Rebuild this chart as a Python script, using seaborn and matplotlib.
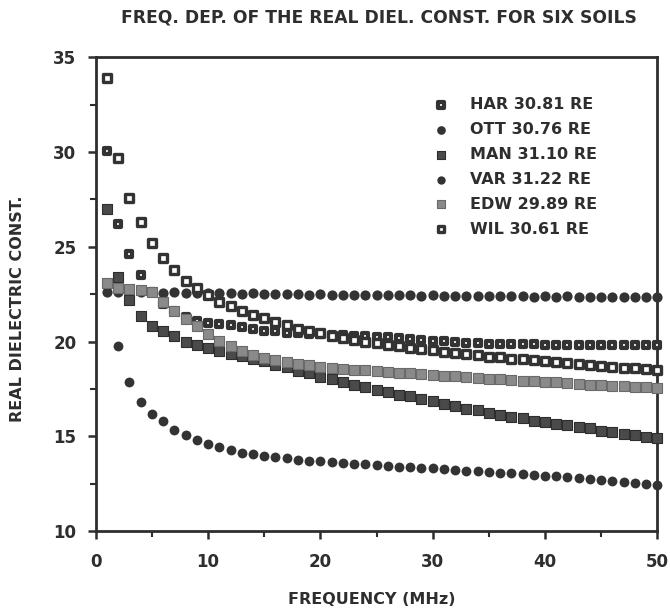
import numpy as np
import matplotlib
matplotlib.use("Agg")
import matplotlib.pyplot as plt
import seaborn as sns
from matplotlib.ticker import MultipleLocator

# Frequency sweep (MHz) and real dielectric constant of six soils
freq_mhz = list(range(1, 51))

har = [30.05, 26.20, 24.60, 23.50, 22.60, 22.00, 21.60, 21.30, 21.10, 21.00,
       20.92, 20.88, 20.75, 20.66, 20.58, 20.53, 20.47, 20.44, 20.41, 20.38,
       20.36, 20.33, 20.31, 20.28, 20.25, 20.22, 20.18, 20.15, 20.10, 20.05,
       20.01, 19.97, 19.94, 19.91, 19.89, 19.87, 19.86, 19.86, 19.85, 19.84,
       19.84, 19.83, 19.83, 19.82, 19.82, 19.81, 19.81, 19.80, 19.80, 19.80]

ott = [22.60, 22.62, 22.60, 22.63, 22.60, 22.58, 22.60, 22.57, 22.58, 22.55,
       22.56, 22.55, 22.53, 22.55, 22.52, 22.50, 22.52, 22.50, 22.48, 22.50,
       22.47, 22.48, 22.45, 22.47, 22.44, 22.45, 22.43, 22.44, 22.42, 22.43,
       22.40, 22.42, 22.40, 22.41, 22.38, 22.40, 22.38, 22.39, 22.37, 22.38,
       22.36, 22.38, 22.36, 22.37, 22.35, 22.36, 22.35, 22.36, 22.34, 22.35]

man = [26.97, 23.40, 22.20, 21.33, 20.84, 20.54, 20.27, 20.00, 19.84, 19.66,
       19.50, 19.35, 19.24, 19.06, 18.95, 18.76, 18.64, 18.45, 18.33, 18.14,
       18.00, 17.88, 17.72, 17.62, 17.46, 17.36, 17.20, 17.10, 16.94, 16.84,
       16.70, 16.60, 16.45, 16.36, 16.22, 16.14, 16.01, 15.94, 15.82, 15.76,
       15.64, 15.58, 15.47, 15.41, 15.30, 15.24, 15.12, 15.07, 14.96, 14.90]

var = [np.nan, 19.78, 17.84, 16.80, 16.20, 15.80, 15.35, 15.07, 14.80, 14.60,
       14.44, 14.30, 14.14, 14.05, 13.97, 13.90, 13.83, 13.77, 13.72, 13.67,
       13.63, 13.59, 13.55, 13.51, 13.47, 13.44, 13.40, 13.37, 13.33, 13.30,
       13.26, 13.23, 13.19, 13.16, 13.12, 13.08, 13.04, 13.00, 12.96, 12.92,
       12.88, 12.84, 12.80, 12.75, 12.70, 12.65, 12.60, 12.54, 12.48, 12.42]

edw = [23.10, 22.85, 22.75, 22.70, 22.60, 22.10, 21.60, 21.20, 20.80, 20.40,
       20.05, 19.75, 19.50, 19.30, 19.15, 19.02, 18.90, 18.82, 18.75, 18.68,
       18.60, 18.57, 18.51, 18.49, 18.43, 18.41, 18.35, 18.33, 18.27, 18.25,
       18.19, 18.17, 18.11, 18.09, 18.04, 18.00, 17.98, 17.93, 17.91, 17.86,
       17.85, 17.80, 17.78, 17.73, 17.72, 17.67, 17.66, 17.61, 17.59, 17.55]

wil = [33.90, 29.70, 27.60, 26.30, 25.20, 24.40, 23.80, 23.20, 22.80, 22.45,
       22.10, 21.85, 21.60, 21.40, 21.22, 21.02, 20.85, 20.68, 20.55, 20.43,
       20.30, 20.19, 20.10, 19.99, 19.92, 19.83, 19.76, 19.67, 19.60, 19.53,
       19.45, 19.40, 19.32, 19.27, 19.20, 19.16, 19.10, 19.06, 19.00, 18.96,
       18.90, 18.87, 18.80, 18.77, 18.71, 18.68, 18.62, 18.59, 18.53, 18.48]

series_names = ["HAR 30.81 RE", "OTT 30.76 RE", "MAN 31.10 RE",
                "VAR 31.22 RE", "EDW 29.89 RE", "WIL 30.61 RE"]
series_values = [har, ott, man, var, edw, wil]

INK = "#2e2e2e"

# marker styling per soil: (marker, area, face, edge, edge width)
styles = [
    ("s", 24, "white", "#333333", 3.0),
    ("o", 54, "#333333", "#333333", 0.0),
    ("s", 46, "#4a4a4a", "#2e2e2e", 0.8),
    ("o", 50, "#333333", "#333333", 0.0),
    ("s", 46, "#8a8a8a", "#6a6a6a", 0.8),
    ("s", 34, "white", "#333333", 2.4),
]

sns.set_theme(style="ticks")
plt.rcParams["font.family"] = ["DejaVu Sans"]
plt.rcParams["font.weight"] = "bold"
plt.rcParams["text.color"] = INK

fig = plt.figure(figsize=(6.7, 6.16), dpi=100)
ax = fig.add_axes([0.143, 0.138, 0.838, 0.769])

order = [4, 2, 0, 5, 1, 3]
for i in order:
    m, s, fc, ec, lw = styles[i]
    sns.scatterplot(x=freq_mhz, y=series_values[i], ax=ax, marker=m, s=s,
                    color=fc, edgecolor=ec, linewidth=lw, label=series_names[i],
                    clip_on=False, zorder=3 + i)

ax.set_xlim(0, 50)
ax.set_ylim(10, 35)
ax.xaxis.set_major_locator(MultipleLocator(10))
ax.xaxis.set_minor_locator(MultipleLocator(5))
ax.yaxis.set_major_locator(MultipleLocator(5))
ax.yaxis.set_minor_locator(MultipleLocator(2.5))
ax.tick_params(which="major", direction="out", length=6, width=1.8,
               color=INK, labelsize=12, labelcolor=INK)
ax.tick_params(axis="x", which="major", pad=10)
ax.tick_params(axis="y", which="major", pad=8)
ax.tick_params(which="minor", direction="out", length=4, width=1.5, color=INK)
ax.tick_params(top=False, right=False)
for lab in ax.get_xticklabels() + ax.get_yticklabels():
    lab.set_fontweight("bold")
for sp in ax.spines.values():
    sp.set_visible(True)
    sp.set_color(INK)
    sp.set_linewidth(2.0)

ax.set_xlabel("FREQUENCY (MHz)", fontsize=11.5, fontweight="bold", color=INK)
ax.set_ylabel("REAL DIELECTRIC CONST.", fontsize=11.5, fontweight="bold", color=INK)
ax.xaxis.set_label_coords(0.492, -0.128)
ax.yaxis.set_label_coords(-0.126, 0.47)

fig.text(0.566, 0.971, "FREQ. DEP. OF THE REAL DIEL. CONST. FOR SIX SOILS",
         ha="center", va="center", fontsize=12.3, fontweight="bold", color=INK)

handles, labels = ax.get_legend_handles_labels()
lookup = dict(zip(labels, handles))
ax.legend([lookup[n] for n in series_names], series_names,
          loc="upper left", bbox_to_anchor=(0.586, 0.916), frameon=False,
          handletextpad=0.8, labelspacing=0.62,
          borderpad=0, borderaxespad=0, markerscale=0.85,
          prop={"weight": "bold", "size": 11.5})

fig.savefig("out.png", dpi=100, facecolor="white")
